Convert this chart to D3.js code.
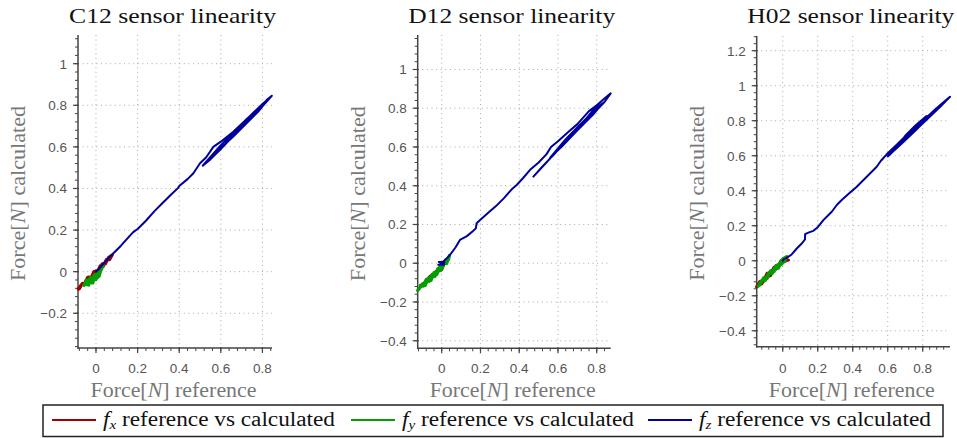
<!DOCTYPE html>
<html>
<head>
<meta charset="utf-8">
<script src="https://cdn.jsdelivr.net/npm/d3@7"></script>
<style>
  body { margin: 0; background: #fff; }
  svg { display: block; }
</style>
</head>
<body>
<div id="chart"></div>
<script>
// les capteurs et les limites des axes (axis equal)
const sensors = ['C12', 'D12', 'H02'];
const xLimits = [[-0.0865, 0.846], [-0.124, 0.872], [-0.149, 0.956]];
const yLimits = [[-0.367, 1.138], [-0.439, 1.178], [-0.491, 1.284]];
const xTicks = [0, 0.2, 0.4, 0.6, 0.8];
const yTicks = [
  [-0.2, 0, 0.2, 0.4, 0.6, 0.8, 1],
  [-0.4, -0.2, 0, 0.2, 0.4, 0.6, 0.8, 1],
  [-0.4, -0.2, 0, 0.2, 0.4, 0.6, 0.8, 1, 1.2]
];
const seriesNames = ['f_x', 'f_y', 'f_z'];
const seriesColors = ['#a00000', '#00a000', '#00009c'];

// C12 : [reference, calculé]
const c12Fx = [[-0.085,-0.083],[-0.07,-0.062],[-0.055,-0.058],[-0.04,-0.028],[-0.025,-0.034],[-0.01,0.0],[0.005,-0.006],[0.02,0.028],[0.035,0.026],[0.05,0.058],[0.065,0.058],[0.078,0.08],[0.06,0.068],[0.045,0.038],[0.03,0.038],[0.012,0.006],[-0.005,0.002],[-0.02,-0.028],[-0.035,-0.026],[-0.05,-0.058],[-0.065,-0.056],[-0.08,-0.082]];
const c12Fy = [[-0.058,-0.066],[-0.045,-0.044],[-0.035,-0.064],[-0.025,-0.028],[-0.015,-0.054],[-0.005,-0.016],[0.0,-0.038],[0.01,-0.004],[0.015,-0.022],[0.025,0.016],[0.035,0.03],[0.02,-0.002],[0.008,-0.028],[-0.01,-0.018],[-0.02,-0.054],[-0.03,-0.034],[-0.045,-0.062],[-0.05,-0.044],[-0.04,-0.04],[-0.02,-0.044],[0.0,-0.01]];
const c12Fz = [[0,0],[0.02,0.02],[0.05,0.055],[0.08,0.085],[0.12,0.125],[0.16,0.17],[0.179,0.19],[0.2,0.205],[0.24,0.245],[0.28,0.29],[0.32,0.33],[0.36,0.37],[0.395,0.403],[0.4,0.412],[0.44,0.445],[0.468,0.473],[0.5,0.521],[0.53,0.55],[0.564,0.6],[0.6,0.625],[0.66,0.673],[0.72,0.73],[0.788,0.79],[0.82,0.825],[0.845,0.846],[0.8,0.795],[0.75,0.745],[0.7,0.692],[0.65,0.642],[0.6,0.59],[0.55,0.54],[0.513,0.51],[0.55,0.552],[0.6,0.608],[0.65,0.658],[0.7,0.708],[0.75,0.758],[0.8,0.806],[0.83,0.832],[0.78,0.77],[0.72,0.71],[0.66,0.65],[0.6,0.594],[0.56,0.56],[0.62,0.628],[0.7,0.702],[0.78,0.786],[0.82,0.818],[0.76,0.75],[0.68,0.675],[0.62,0.612],[0.66,0.666],[0.74,0.744],[0.81,0.812]];

// D12
const d12Fx = [[-0.12,-0.135],[-0.1,-0.108],[-0.08,-0.097],[-0.06,-0.068],[-0.04,-0.057],[-0.02,-0.038],[0.0,-0.032],[0.005,-0.015],[-0.01,-0.037],[-0.03,-0.043],[-0.05,-0.072],[-0.07,-0.078],[-0.09,-0.107],[-0.11,-0.118]];
const d12Fy = [[-0.124,-0.14],[-0.1,-0.108],[-0.085,-0.114],[-0.07,-0.078],[-0.055,-0.088],[-0.04,-0.048],[-0.025,-0.058],[-0.01,-0.018],[0.005,-0.022],[0.02,0.017],[0.035,0.018],[0.04,0.04],[0.025,-0.002],[0.01,0.007],[-0.005,-0.037],[-0.02,-0.028],[-0.035,-0.068],[-0.05,-0.058],[-0.065,-0.094],[-0.08,-0.084],[-0.095,-0.118],[-0.11,-0.114]];
const d12Fz = [[-0.018,-0.008],[0.012,-0.008],[0.012,0.006],[-0.015,0.006],[0.0,0.0],[0.02,0.02],[0.04,0.04],[0.07,0.08],[0.094,0.12],[0.13,0.14],[0.16,0.165],[0.176,0.18],[0.18,0.206],[0.198,0.223],[0.24,0.26],[0.28,0.295],[0.32,0.335],[0.36,0.38],[0.387,0.404],[0.42,0.44],[0.456,0.482],[0.5,0.52],[0.54,0.562],[0.564,0.6],[0.6,0.63],[0.65,0.675],[0.7,0.718],[0.76,0.785],[0.8,0.815],[0.84,0.85],[0.872,0.877],[0.84,0.832],[0.78,0.77],[0.72,0.71],[0.66,0.648],[0.6,0.585],[0.54,0.52],[0.473,0.447],[0.52,0.5],[0.58,0.562],[0.64,0.632],[0.7,0.692],[0.783,0.791],[0.83,0.825],[0.78,0.766],[0.7,0.686],[0.62,0.602],[0.56,0.545],[0.64,0.64],[0.72,0.722],[0.8,0.8]];

// H02
const h02Fx = [[-0.149,-0.149],[-0.13,-0.118],[-0.11,-0.118],[-0.09,-0.073],[-0.07,-0.084],[-0.05,-0.038],[-0.03,-0.038],[-0.01,0.0],[0.0,0.002],[0.032,0.004],[0.0,-0.007],[-0.02,-0.028],[-0.04,-0.048],[-0.06,-0.053],[-0.08,-0.088],[-0.1,-0.093],[-0.12,-0.132]];
const h02Fy = [[-0.14,-0.145],[-0.12,-0.113],[-0.1,-0.112],[-0.08,-0.068],[-0.06,-0.072],[-0.04,-0.028],[-0.025,-0.042],[-0.01,-0.003],[0.0,0.01],[0.023,0.023],[0.01,-0.002],[-0.01,-0.022],[-0.03,-0.023],[-0.05,-0.062],[-0.07,-0.058],[-0.09,-0.102],[-0.11,-0.098],[-0.13,-0.137]];
const h02Fz = [[0,0],[0.004,0.008],[0.02,0.015],[0.051,0.036],[0.08,0.07],[0.11,0.1],[0.127,0.122],[0.128,0.152],[0.15,0.162],[0.175,0.171],[0.2,0.192],[0.232,0.232],[0.26,0.26],[0.28,0.28],[0.31,0.32],[0.337,0.347],[0.38,0.385],[0.42,0.42],[0.46,0.46],[0.5,0.5],[0.537,0.537],[0.56,0.57],[0.594,0.608],[0.65,0.662],[0.7,0.708],[0.75,0.756],[0.8,0.798],[0.85,0.844],[0.9,0.89],[0.956,0.937],[0.9,0.88],[0.84,0.822],[0.78,0.765],[0.72,0.708],[0.66,0.652],[0.6,0.596],[0.66,0.672],[0.72,0.73],[0.78,0.786],[0.84,0.836],[0.88,0.872],[0.82,0.806],[0.76,0.745],[0.7,0.688],[0.64,0.632],[0.7,0.714],[0.76,0.774],[0.82,0.826],[0.76,0.76],[0.68,0.68],[0.74,0.738],[0.8,0.79]];

const panels = [
  { fx: c12Fx, fy: c12Fy, fz: c12Fz },
  { fx: d12Fx, fy: d12Fy, fz: d12Fz },
  { fx: h02Fx, fy: h02Fy, fz: h02Fz }
];

const WIDTH = 957;
const HEIGHT = 438;
// position des axes en pixels
const BOX = [
  { left: 78, right: 272, top: 35, bottom: 348 },
  { left: 417.7, right: 610.7, top: 35, bottom: 348.3 },
  { left: 756.7, right: 950, top: 36, bottom: 346.7 }
];

const svg = d3.select('#chart').append('svg')
  .attr('width', WIDTH).attr('height', HEIGHT);

const SERIF = "'Liberation Serif', 'DejaVu Serif', serif";
const SANS = "'Liberation Sans', Arial, sans-serif";
const fmt = d => String(+d.toFixed(1)).replace('-', '\u2212');

sensors.forEach((name, i) => {
  const b = BOX[i];
  const x = d3.scaleLinear().domain(xLimits[i]).range([b.left, b.right]);
  const y = d3.scaleLinear().domain(yLimits[i]).range([b.bottom, b.top]);
  const g = svg.append('g');

  // grille pointillée
  g.selectAll('.vgrid').data(xTicks).enter().append('line')
    .attr('x1', d => x(d)).attr('x2', d => x(d))
    .attr('y1', b.top).attr('y2', b.bottom)
    .attr('stroke', '#a8a8a8').attr('stroke-width', 1)
    .attr('stroke-dasharray', '1,3.6');
  g.selectAll('.hgrid').data(yTicks[i]).enter().append('line')
    .attr('x1', b.left).attr('x2', b.right)
    .attr('y1', d => y(d)).attr('y2', d => y(d))
    .attr('stroke', '#a8a8a8').attr('stroke-width', 1)
    .attr('stroke-dasharray', '1,3.6');

  // petites graduations tous les 0.04
  const minorX = d3.range(Math.ceil(xLimits[i][0] / 0.04), Math.floor(xLimits[i][1] / 0.04) + 1).map(k => k * 0.04);
  const minorY = d3.range(Math.ceil(yLimits[i][0] / 0.04), Math.floor(yLimits[i][1] / 0.04) + 1).map(k => k * 0.04);
  g.selectAll('.mx').data(minorX).enter().append('line')
    .attr('x1', d => x(d)).attr('x2', d => x(d))
    .attr('y1', b.bottom).attr('y2', b.bottom + 3)
    .attr('stroke', '#444').attr('stroke-width', 1);
  g.selectAll('.my').data(minorY).enter().append('line')
    .attr('x1', b.left - 3).attr('x2', b.left)
    .attr('y1', d => y(d)).attr('y2', d => y(d))
    .attr('stroke', '#444').attr('stroke-width', 1);

  // graduations principales
  g.selectAll('.tx').data(xTicks).enter().append('line')
    .attr('x1', d => x(d)).attr('x2', d => x(d))
    .attr('y1', b.bottom - 1).attr('y2', b.bottom + 5)
    .attr('stroke', '#444').attr('stroke-width', 1.2);
  g.selectAll('.ty').data(yTicks[i]).enter().append('line')
    .attr('x1', b.left - 5).attr('x2', b.left + 1)
    .attr('y1', d => y(d)).attr('y2', d => y(d))
    .attr('stroke', '#444').attr('stroke-width', 1.2);

  // lignes des axes
  g.append('line').attr('x1', b.left).attr('x2', b.left)
    .attr('y1', b.top).attr('y2', b.bottom + 0.7)
    .attr('stroke', '#444').attr('stroke-width', 1.5);
  g.append('line').attr('x1', b.left - 0.7).attr('x2', b.right)
    .attr('y1', b.bottom).attr('y2', b.bottom)
    .attr('stroke', '#444').attr('stroke-width', 1.5);

  // étiquettes des graduations
  g.selectAll('.lx').data(xTicks).enter().append('text')
    .attr('x', d => x(d)).attr('y', 373)
    .attr('text-anchor', 'middle')
    .style('font-family', SANS).style('font-size', '13.5px').attr('fill', '#555')
    .text(fmt);
  g.selectAll('.ly').data(yTicks[i]).enter().append('text')
    .attr('x', b.left - 11).attr('y', d => y(d)).attr('dy', '0.36em')
    .attr('text-anchor', 'end')
    .style('font-family', SANS).style('font-size', '13.5px').attr('fill', '#555')
    .text(fmt);

  // les courbes : fx, fy puis fz
  const line = d3.line().x(d => x(d[0])).y(d => y(d[1]));
  const series = [panels[i].fx, panels[i].fy, panels[i].fz];
  g.selectAll('.serie').data(series).enter().append('path')
    .attr('d', line)
    .attr('fill', 'none')
    .attr('stroke', (d, k) => seriesColors[k])
    .attr('stroke-width', (d, k) => k === 2 ? 2 : 3.2)
    .attr('stroke-linejoin', 'round')
    .attr('stroke-linecap', 'round');

  const cx = (b.left + b.right) / 2;

  // titre
  g.append('text')
    .attr('x', cx - 2.5).attr('y', 23)
    .attr('text-anchor', 'middle')
    .attr('textLength', 207).attr('lengthAdjust', 'spacingAndGlyphs')
    .style('font-family', SERIF).style('font-size', '22px').attr('fill', '#111')
    .text(`${name} sensor linearity`);

  // label axe x
  const xl = g.append('text')
    .attr('x', cx - 1.5).attr('y', 397)
    .attr('text-anchor', 'middle')
    .attr('textLength', 166).attr('lengthAdjust', 'spacingAndGlyphs')
    .style('font-family', SERIF).style('font-size', '20px').attr('fill', '#777');
  xl.append('tspan').text('Force[');
  xl.append('tspan').style('font-style', 'italic').text('N');
  xl.append('tspan').text('] reference');

  // label axe y
  const cy = (b.top + b.bottom) / 2;
  const yl = g.append('text')
    .attr('transform', `translate(${b.left - 53},${cy + 2}) rotate(-90)`)
    .attr('text-anchor', 'middle')
    .attr('textLength', 175).attr('lengthAdjust', 'spacingAndGlyphs')
    .style('font-family', SERIF).style('font-size', '20px').attr('fill', '#777');
  yl.append('tspan').text('Force[');
  yl.append('tspan').style('font-style', 'italic').text('N');
  yl.append('tspan').text('] calculated');
});

// la légende
const legend = svg.append('g');
legend.append('rect')
  .attr('x', 43).attr('y', 405).attr('width', 900).attr('height', 31.5)
  .attr('fill', '#fff').attr('stroke', '#222').attr('stroke-width', 1.5);

const LEG_X = [52, 351, 648];
seriesNames.forEach((s, k) => {
  legend.append('line')
    .attr('x1', LEG_X[k]).attr('x2', LEG_X[k] + 44)
    .attr('y1', 420).attr('y2', 420)
    .attr('stroke', seriesColors[k]).attr('stroke-width', 2);
  const t = legend.append('text')
    .attr('x', LEG_X[k] + 51).attr('y', 426)
    .attr('textLength', 232).attr('lengthAdjust', 'spacingAndGlyphs')
    .style('font-family', SERIF).style('font-size', '20px').attr('fill', '#111');
  t.append('tspan').style('font-style', 'italic').text('f');
  t.append('tspan').style('font-style', 'italic').style('font-size', '13px')
    .attr('dy', 3).text(s.split('_')[1]);
  t.append('tspan').attr('dy', -3).text(' reference vs calculated');
});
</script>
</body>
</html>
